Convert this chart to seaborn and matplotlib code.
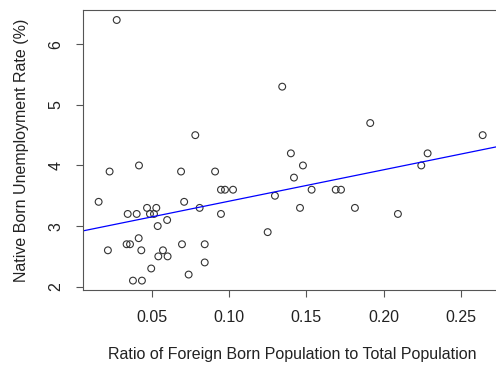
import matplotlib
matplotlib.use("Agg")
import matplotlib.pyplot as plt
import numpy as np
import pandas as pd
import seaborn as sns

# ratio of foreign born population to total population (per state)
foreign_ratio = [
    0.0157, 0.0217, 0.0228, 0.0274, 0.0338, 0.0360, 0.0345, 0.0379, 0.0403, 0.0416,
    0.0418, 0.0433, 0.0437, 0.0470, 0.0489, 0.0497, 0.0515, 0.0530, 0.0539, 0.0543,
    0.0573, 0.0600, 0.0603, 0.0690, 0.0696, 0.0710, 0.0739, 0.0782, 0.0810, 0.0843,
    0.0843, 0.0910, 0.0948, 0.0974, 0.1026, 0.0948, 0.1250, 0.1297, 0.1344, 0.1400,
    0.1420, 0.1459, 0.1478, 0.1534, 0.1690, 0.1724, 0.1814, 0.1913, 0.2092, 0.2243,
    0.2284, 0.2640,
]
# native born unemployment rate (%)
native_unemp = [
    3.4, 2.6, 3.9, 6.4, 2.7, 2.7, 3.2, 2.1, 3.2, 2.8,
    4.0, 2.6, 2.1, 3.3, 3.2, 2.3, 3.2, 3.3, 3.0, 2.5,
    2.6, 3.1, 2.5, 3.9, 2.7, 3.4, 2.2, 4.5, 3.3, 2.7,
    2.4, 3.9, 3.6, 3.6, 3.6, 3.2, 2.9, 3.5, 5.3, 4.2,
    3.8, 3.3, 4.0, 3.6, 3.6, 3.6, 3.3, 4.7, 3.2, 4.0,
    4.2, 4.5,
]
x_ticks = [0.05, 0.10, 0.15, 0.20, 0.25]
y_ticks = [2, 3, 4, 5, 6]

XLABEL = "Ratio of Foreign Born Population to Total Population"
YLABEL = "Native Born Unemployment Rate (%)"

sns.set_style("white")
plt.rcParams["font.family"] = ["Liberation Sans", "DejaVu Sans"]

df = pd.DataFrame({"ratio": foreign_ratio, "unemp": native_unemp})

fig = plt.figure(figsize=(4.96, 3.68), dpi=100)
ax = fig.add_axes([0.1667, 0.2111, 0.8448, 0.7609])
ax.set_xlim(0.0054, 0.2763)
ax.set_ylim(1.94, 6.56)

sns.regplot(
    data=df, x="ratio", y="unemp", ax=ax, ci=None, truncate=False,
    scatter_kws=dict(facecolors="none", edgecolors="#333333", s=24,
                     linewidths=0.8, alpha=1),
    line_kws=dict(color="blue", lw=0.9),
)
ax.set_xlim(0.0054, 0.2763)
ax.set_ylim(1.94, 6.56)

ax.set_xticks(x_ticks)
ax.set_xticklabels([f"{t:.2f}" for t in x_ticks])
ax.set_yticks(y_ticks)
ax.set_yticklabels([str(t) for t in y_ticks], rotation=90, va="center")
ax.tick_params(axis="both", direction="out", length=5, width=0.8,
               color="#555555", labelcolor="#222222", labelsize=11.5,
               bottom=True, left=True)
ax.tick_params(axis="x", pad=9)
ax.tick_params(axis="y", pad=9)

for s in ax.spines.values():
    s.set_color("#555555")
    s.set_linewidth(0.8)

ax.set_xlabel(XLABEL, fontsize=11.5, color="#222222", labelpad=16)
ax.set_ylabel(YLABEL, fontsize=11.5, color="#222222", labelpad=14)

fig.savefig("out.png", dpi=100)
